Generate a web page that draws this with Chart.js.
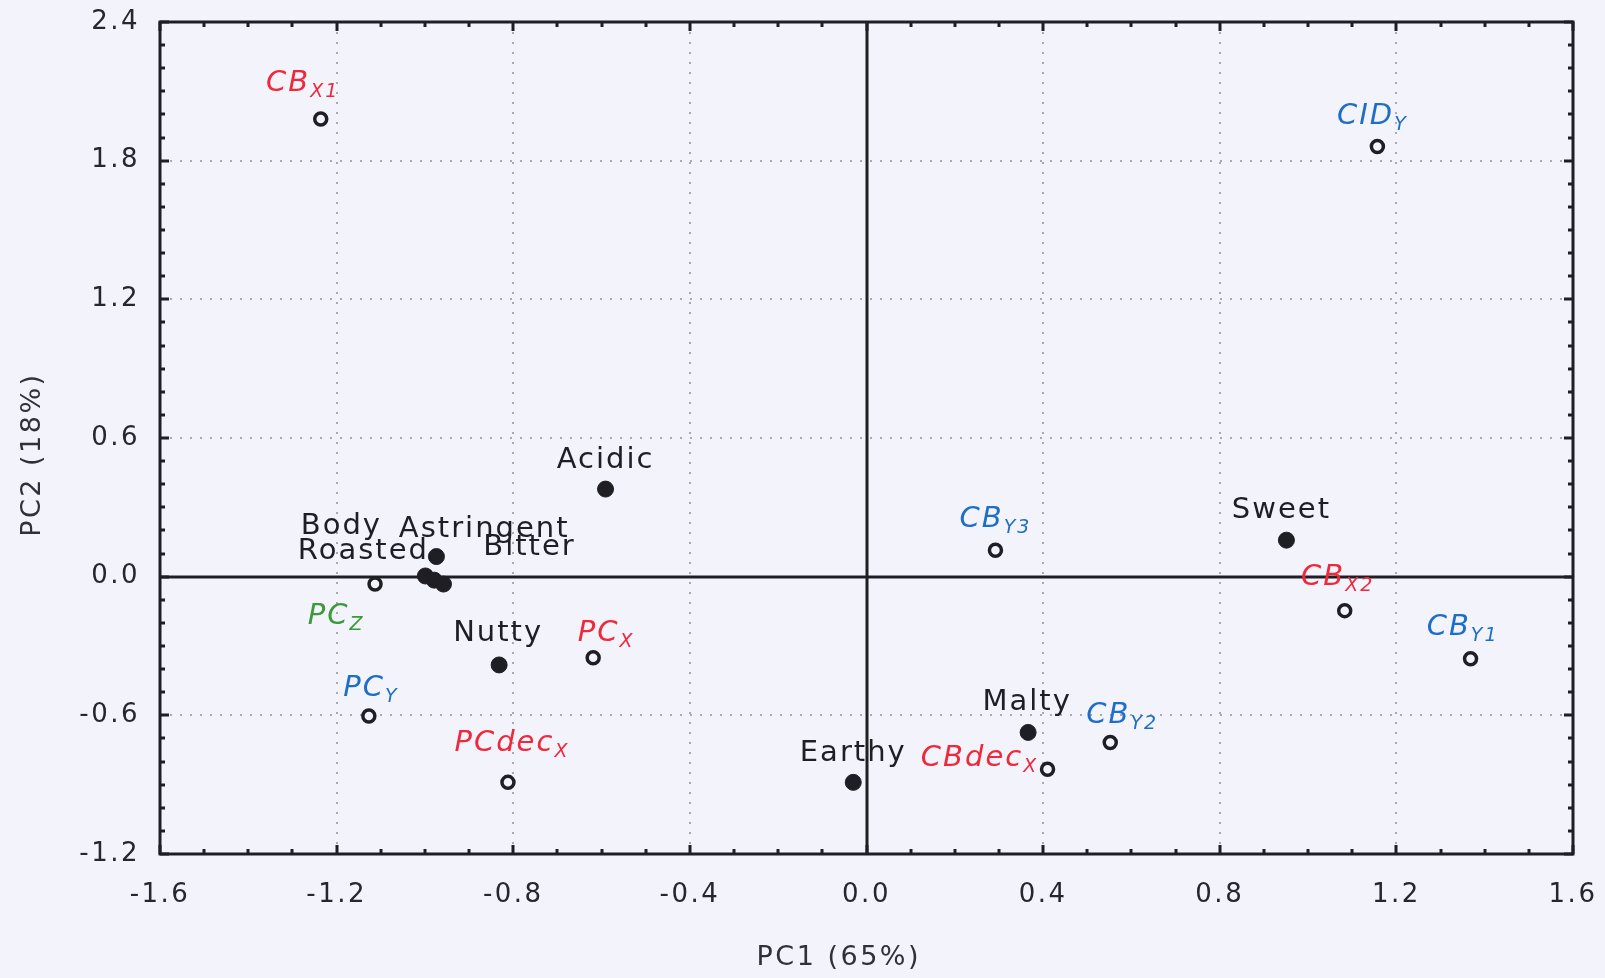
<!DOCTYPE html>
<html>
<head>
<meta charset="utf-8">
<title>PCA biplot</title>
<script src="https://cdn.jsdelivr.net/npm/chart.js@4.4.0/dist/chart.umd.min.js"></script>
<style>
  html, body { margin: 0; padding: 0; background: #f3f4fb; }
  #wrap { width: 1605px; height: 978px; }
</style>
</head>
<body>
<div id="wrap"><canvas id="pca" width="1605" height="978"></canvas></div>
<script>
// --- Sample scores (open circles) ---
const sampleNames = ['CB', 'CID', 'CB', 'CB', 'CB', 'CB', 'CBdec', 'PC', 'PC', 'PC', 'PCdec'];
const sampleSubs  = ['X1', 'Y', 'Y3', 'X2', 'Y1', 'Y2', 'X', 'Z', 'Y', 'X', 'X'];
const samplePC1   = [-1.236, 1.157, 0.292, 1.083, 1.368, 0.552, 0.410, -1.113, -1.127, -0.619, -0.812];
const samplePC2   = [1.980, 1.861, 0.114, -0.147, -0.355, -0.718, -0.833, -0.032, -0.603, -0.351, -0.890];

// --- Sensory attributes (filled circles) ---
const attrNames = ['Acidic', 'Sweet', 'Malty', 'Earthy', 'Nutty', 'Body', 'Roasted', 'Astringent', 'Bitter'];
const attrPC1   = [-0.591, 0.951, 0.366, -0.030, -0.832, -0.974, -0.999, -0.979, -0.958];
const attrPC2   = [0.379, 0.158, -0.674, -0.890, -0.382, 0.087, 0.003, -0.015, -0.032];

// --- Axes ---
const xTicks = [-1.6, -1.2, -0.8, -0.4, 0.0, 0.4, 0.8, 1.2, 1.6];
const yTicks = [-1.2, -0.6, 0.0, 0.6, 1.2, 1.8, 2.4];
const xTitle = 'PC1 (65%)';
const yTitle = 'PC2 (18%)';

// --- Styles ---
const BG = '#f3f4fb';
const INK = '#1e1e24';
const groupColor = { X: '#f0283c', Y: '#1e6ec8', Z: '#3c9a3c' };
// label placement relative to the point: [dx of label centre, dy of baseline], px
const sampleNudge = {
    'CB X1': [-18, -28], 'CID Y': [-5, -23], 'CB Y3': [0, -23], 'CB X2': [-7, -26],
    'CB Y1': [-8, -24], 'CB Y2': [12, -20], 'CBdec X': [-68, -3], 'PC Z': [-39, 40],
    'PC Y': [2, -20], 'PC X': [13, -17], 'PCdec X': [4, -31]
};
const attrNudge = {
    Acidic: [0, -21], Sweet: [-5, -22], Malty: [-1, -22], Earthy: [0, -21], Nutty: [-1, -24],
    Body: [-95, -23], Roasted: [-62, -17], Astringent: [50, -43], Bitter: [86, -29]
};
const FONT = '"DejaVu Sans", Verdana, sans-serif';
const NBSP = '\u00a0';

// --- Frame, grid, zero lines and inner ticks ---
const framePlugin = {
    id: 'framePlugin',
    beforeDatasetsDraw(chart) {
        const { ctx, chartArea: a, scales: { x, y } } = chart;
        ctx.save();
        // dotted grid at the major ticks
        ctx.strokeStyle = '#aaa8b4';
        ctx.lineWidth = 2;
        ctx.setLineDash([2, 8]);
        xTicks.slice(1, -1).forEach(v => {
            if (v === 0) return;
            const px = Math.round(x.getPixelForValue(v));
            ctx.beginPath(); ctx.moveTo(px, a.top); ctx.lineTo(px, a.bottom); ctx.stroke();
        });
        yTicks.slice(1, -1).forEach(v => {
            if (v === 0) return;
            const py = Math.round(y.getPixelForValue(v));
            ctx.beginPath(); ctx.moveTo(a.left, py); ctx.lineTo(a.right, py); ctx.stroke();
        });
        ctx.setLineDash([]);

        // zero lines
        ctx.strokeStyle = INK;
        ctx.lineWidth = 3;
        const x0 = Math.round(x.getPixelForValue(0));
        const y0 = Math.round(y.getPixelForValue(0));
        ctx.beginPath(); ctx.moveTo(x0, a.top); ctx.lineTo(x0, a.bottom); ctx.stroke();
        ctx.beginPath(); ctx.moveTo(a.left, y0); ctx.lineTo(a.right, y0); ctx.stroke();

        // inward ticks on all four sides, every 0.1
        for (let k = Math.round(x.min * 10); k <= Math.round(x.max * 10); k++) {
            const px = Math.round(x.getPixelForValue(k / 10));
            const len = k % 4 === 0 ? 9 : 5;
            ctx.beginPath();
            ctx.moveTo(px, a.bottom); ctx.lineTo(px, a.bottom - len);
            ctx.moveTo(px, a.top); ctx.lineTo(px, a.top + len);
            ctx.stroke();
        }
        for (let k = Math.round(y.min * 10); k <= Math.round(y.max * 10); k++) {
            const py = Math.round(y.getPixelForValue(k / 10));
            const len = k % 6 === 0 ? 9 : 5;
            ctx.beginPath();
            ctx.moveTo(a.left, py); ctx.lineTo(a.left + len, py);
            ctx.moveTo(a.right, py); ctx.lineTo(a.right - len, py);
            ctx.stroke();
        }

        // frame
        ctx.strokeRect(a.left, a.top, a.width, a.height);
        ctx.restore();
    }
};

// --- Point labels (with subscripts for the samples) ---
function drawLabel(ctx, px, py, main, sub, color, nudge, italic) {
    const mainFont = `${italic ? 'italic ' : ''}29px ${FONT}`;
    const subFont = `${italic ? 'italic ' : ''}19px ${FONT}`;
    ctx.letterSpacing = '2px';
    ctx.font = mainFont;
    const w1 = ctx.measureText(main).width;
    ctx.font = subFont;
    const w2 = sub ? ctx.measureText(sub).width : 0;
    const left = px + nudge[0] - (w1 + w2) / 2;
    const base = py + nudge[1];
    ctx.fillStyle = color;
    ctx.textAlign = 'left';
    ctx.textBaseline = 'alphabetic';
    ctx.font = mainFont;
    ctx.fillText(main, left, base);
    if (sub) {
        ctx.font = subFont;
        ctx.fillText(sub, left + w1, base + 6);
    }
}

const labelPlugin = {
    id: 'labelPlugin',
    afterDatasetsDraw(chart) {
        const { ctx } = chart;
        ctx.save();
        chart.getDatasetMeta(0).data.forEach((pt, i) => {
            const key = sampleNames[i] + ' ' + sampleSubs[i];
            drawLabel(ctx, pt.x, pt.y, sampleNames[i], sampleSubs[i],
                groupColor[sampleSubs[i][0]], sampleNudge[key] || [0, -22], true);
        });
        chart.getDatasetMeta(1).data.forEach((pt, i) => {
            drawLabel(ctx, pt.x, pt.y, attrNames[i], '', INK, attrNudge[attrNames[i]] || [0, -22], false);
        });
        ctx.restore();
    }
};

// background + wider tracking for the axis texts
const chartBg = {
    id: 'chartBg',
    beforeDraw(chart) {
        const { ctx, width, height } = chart;
        ctx.save();
        ctx.fillStyle = BG;
        ctx.fillRect(0, 0, width, height);
        ctx.restore();
        ctx.letterSpacing = '2.5px';
    }
};

new Chart(document.getElementById('pca'), {
    type: 'scatter',
    data: {
        datasets: [{
            label: 'Samples',
            data: samplePC1.map((v, i) => ({ x: v, y: samplePC2[i] })),
            pointRadius: 6,
            pointBorderWidth: 3.5,
            pointBorderColor: INK,
            pointBackgroundColor: BG
        }, {
            label: 'Attributes',
            data: attrPC1.map((v, i) => ({ x: v, y: attrPC2[i] })),
            pointRadius: 8,
            pointBorderWidth: 1,
            pointBorderColor: INK,
            pointBackgroundColor: INK
        }]
    },
    options: {
        responsive: false,
        animation: false,
        layout: { padding: { top: 22, right: 32, left: 0, bottom: 0 } },
        plugins: {
            legend: { display: false },
            tooltip: { enabled: false }
        },
        scales: {
            x: {
                type: 'linear',
                min: -1.6,
                max: 1.6,
                afterBuildTicks: s => { s.ticks = xTicks.map(v => ({ value: v })); },
                afterFit: s => { s.height = 124; s.paddingLeft = 0; s.paddingRight = 0; },
                grid: { display: false, drawTicks: false },
                border: { display: false },
                ticks: {
                    padding: 26,
                    color: '#26262c',
                    font: { family: FONT, size: 26 },
                    callback: v => v.toFixed(1)
                },
                title: {
                    display: true,
                    // trailing spaces pull the title a little left of centre, as in the original
                    text: xTitle + NBSP.repeat(5),
                    color: '#303036',
                    font: { family: FONT, size: 27 },
                    padding: { top: 0, bottom: 4 }
                }
            },
            y: {
                type: 'linear',
                min: -1.2,
                max: 2.4,
                afterBuildTicks: s => { s.ticks = yTicks.map(v => ({ value: v })); },
                afterFit: s => { s.width = 160; s.paddingTop = 0; s.paddingBottom = 0; },
                grid: { display: false, drawTicks: false },
                border: { display: false },
                ticks: {
                    padding: 20,
                    color: '#26262c',
                    font: { family: FONT, size: 26 },
                    callback: v => v.toFixed(1)
                },
                title: {
                    display: true,
                    text: yTitle + NBSP.repeat(3),
                    color: '#303036',
                    font: { family: FONT, size: 27 },
                    padding: { top: 17, bottom: 0 }
                }
            }
        }
    },
    plugins: [chartBg, framePlugin, labelPlugin]
});
</script>
</body>
</html>
